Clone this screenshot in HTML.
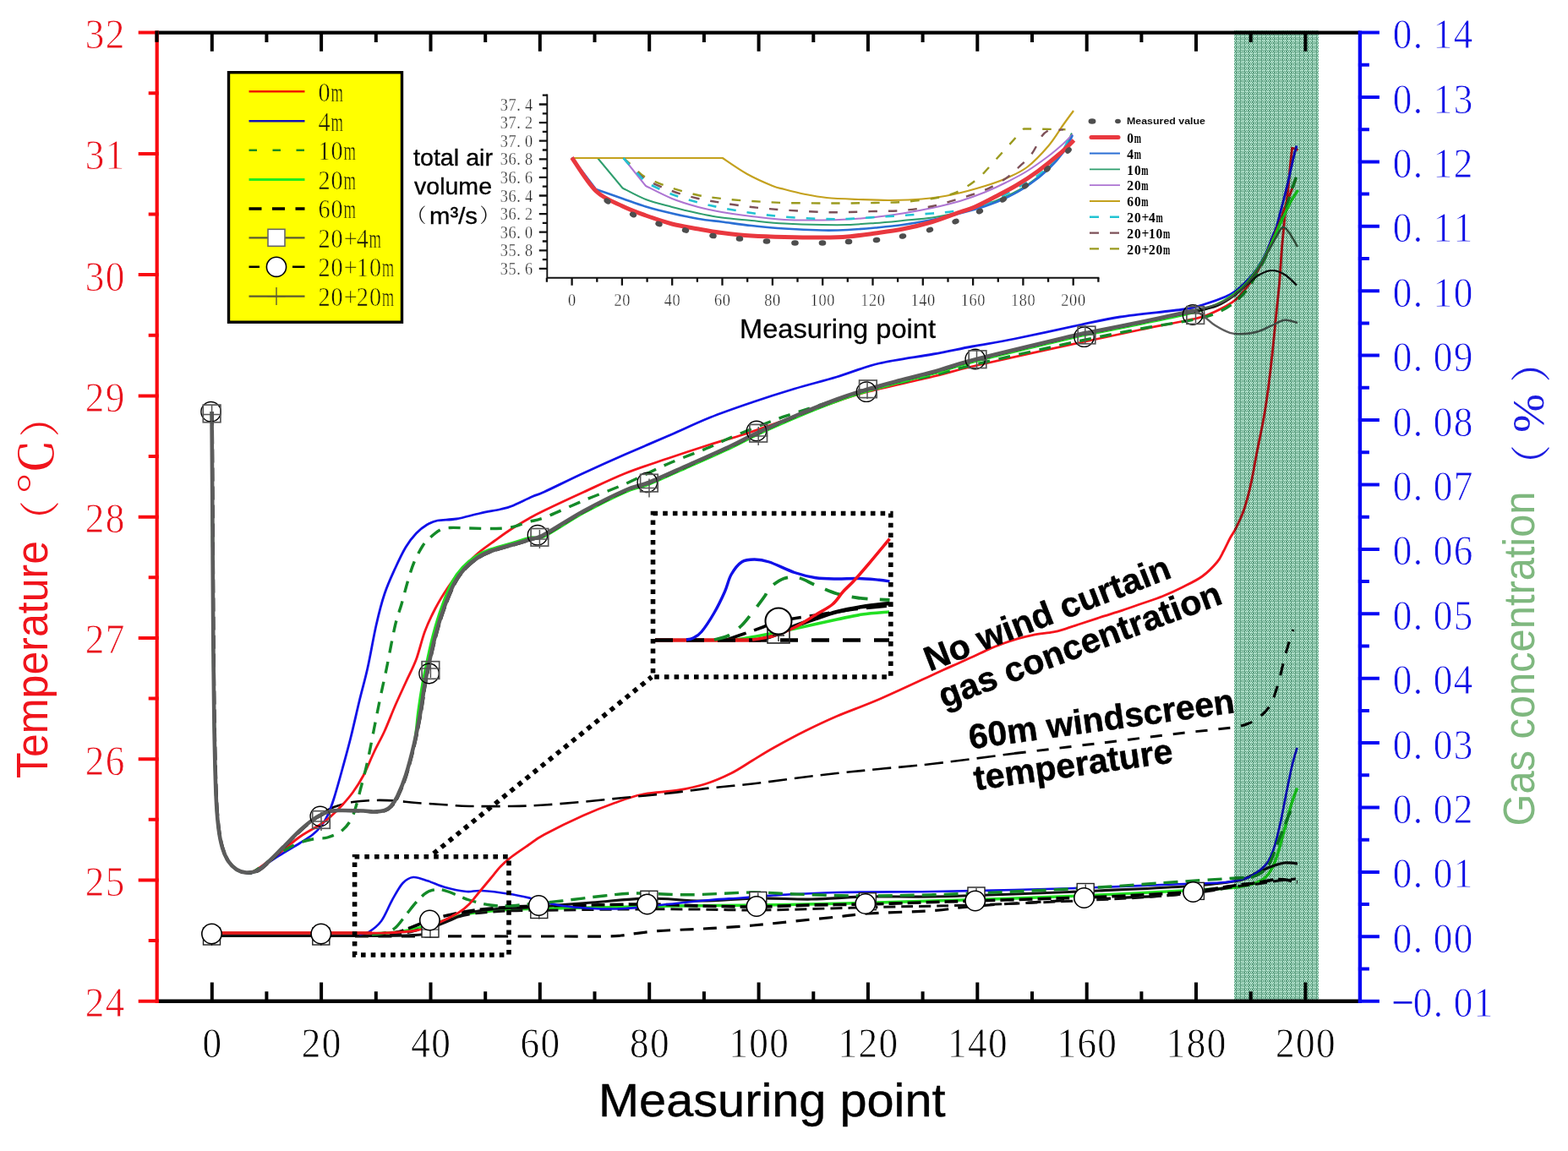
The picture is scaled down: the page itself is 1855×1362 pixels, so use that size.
<!DOCTYPE html>
<html lang="en">
<head>
<meta charset="utf-8">
<title>Temperature and gas concentration at measuring points</title>
<style>
html,body{margin:0;padding:0;background:#fff}
body{width:1855px;height:1362px;overflow:hidden}
svg{display:block}
text{white-space:pre}
.ts{font-family:"Liberation Serif","Noto Serif CJK SC",serif}
.cj{font-family:"Liberation Serif","Noto Serif CJK SC",serif}
.ar{font-family:"Liberation Sans",sans-serif}
.ab{font-family:"Liberation Sans",sans-serif;font-weight:bold}
</style>
</head>
<body>
<svg width="1855" height="1362" viewBox="0 0 1855 1362" role="img" aria-label="Temperature and gas concentration versus measuring point">
<defs>
<pattern id="dots" width="5" height="10" patternUnits="userSpaceOnUse" shape-rendering="crispEdges">
<rect width="5" height="10" fill="#5fa082"/>
<g fill="#98cfb6"><rect x="0" y="1" width="1" height="1"/><rect x="3" y="1" width="1" height="1"/><rect x="1" y="3" width="1" height="1"/><rect x="4" y="3" width="1" height="1"/><rect x="0" y="4" width="1" height="1"/><rect x="3" y="4" width="1" height="1"/><rect x="1" y="6" width="1" height="1"/><rect x="4" y="6" width="1" height="1"/><rect x="0" y="8" width="1" height="1"/><rect x="3" y="8" width="1" height="1"/><rect x="1" y="9" width="1" height="1"/><rect x="4" y="9" width="1" height="1"/></g>
<g fill="#cff8e5"><rect x="0" y="0" width="1" height="1"/><rect x="3" y="0" width="1" height="1"/><rect x="1" y="2" width="1" height="1"/><rect x="4" y="2" width="1" height="1"/><rect x="0" y="3" width="1" height="1"/><rect x="3" y="3" width="1" height="1"/><rect x="1" y="5" width="1" height="1"/><rect x="4" y="5" width="1" height="1"/><rect x="0" y="7" width="1" height="1"/><rect x="3" y="7" width="1" height="1"/><rect x="1" y="8" width="1" height="1"/><rect x="4" y="8" width="1" height="1"/></g>
</pattern>
<clipPath id="bandclip"><rect x="1460" y="41" width="100" height="1141.5"/></clipPath>
</defs>
<rect width="1855" height="1362" fill="#fff"/>
<g id="mc" fill="none" stroke-linejoin="round">
<path d="M250.5 1107.3L440 1107.3" stroke="#000" stroke-width="3.2"/>
<path d="M440 1105C445 1104.7 460 1104.3 470 1103C480 1101.7 490 1099.5 500 1097C510 1094.5 520.8 1090.7 530 1088C539.2 1085.3 544.6 1082.8 555 1081C565.4 1079.2 580.8 1077.9 592.5 1077C604.2 1076.1 607.1 1076 625 1075.5C642.9 1075 670.8 1074.6 700 1074C729.2 1073.4 766.7 1072.5 800 1072C833.3 1071.5 866.7 1071.5 900 1071C933.3 1070.5 966 1069.8 1000 1069C1034 1068.2 1070.7 1067 1104 1066C1137.3 1065 1167.3 1064.2 1200 1063C1232.7 1061.8 1266.7 1060.5 1300 1059C1333.3 1057.5 1372.9 1055.5 1400 1054C1427.1 1052.5 1447.9 1051.7 1462.5 1050C1477.1 1048.3 1481.2 1046.5 1487.5 1044C1493.8 1041.5 1496.2 1039.8 1500 1035C1503.8 1030.2 1506.7 1024.2 1510 1015C1513.3 1005.8 1517.1 990.4 1520 980C1522.9 969.6 1525.1 960.4 1527.5 952.5C1529.9 944.6 1533.3 935.8 1534.5 932.5" stroke="#22e022" stroke-width="3.4"/>
<path d="M420 1107.8C456.7 1107.8 590.8 1108 640 1108C689.2 1108 699.2 1108.2 715 1108C730.8 1107.8 728.8 1107.6 735 1107C741.2 1106.4 744.8 1105.5 752 1104.6C759.2 1103.7 768.3 1102.5 778 1101.7C787.7 1100.9 799.2 1100.5 810 1100C820.8 1099.5 829.1 1099.2 842.6 1098.4C856.1 1097.6 874.8 1096.4 891 1095C907.2 1093.6 923.5 1091.7 940 1090C956.5 1088.3 975.4 1086.5 990 1085C1004.6 1083.5 1008.5 1082.2 1027.5 1081C1046.5 1079.8 1083.6 1078.9 1104 1077.5C1124.4 1076.1 1129.8 1074.2 1150 1072.5C1170.2 1070.8 1195.8 1069.2 1225 1067.5C1254.2 1065.8 1300 1063.8 1325 1062.5C1350 1061.2 1358.3 1061.2 1375 1060C1391.7 1058.8 1410.4 1057.1 1425 1055C1439.6 1052.9 1456.2 1048.8 1462.5 1047.5" stroke="#000" stroke-width="3.2" stroke-dasharray="16 11.5"/>
<path d="M250.5 1107C288.8 1107 437.6 1108.2 480 1107C522.4 1105.8 496.7 1102.8 505 1100C513.3 1097.2 521.7 1093.3 530 1090C538.3 1086.7 544.6 1082.5 555 1080C565.4 1077.5 580.8 1076 592.5 1075C604.2 1074 607.1 1075.2 625 1074C642.9 1072.8 676.3 1069.8 700 1068C723.7 1066.2 745.3 1063.3 767 1063C788.7 1062.7 808.5 1066 830 1066C851.5 1066 874.3 1063.3 896 1063C917.7 1062.7 938.5 1064.3 960 1064C981.5 1063.7 1001 1061.5 1025 1061C1049 1060.5 1074.8 1061.5 1104 1061C1133.2 1060.5 1167.3 1059.2 1200 1058C1232.7 1056.8 1266.7 1055.5 1300 1054C1333.3 1052.5 1372.9 1050.9 1400 1049C1427.1 1047.1 1447.9 1045.2 1462.5 1042.5C1477.1 1039.8 1480.4 1035.4 1487.5 1032.5C1494.6 1029.6 1499.6 1026.9 1505 1025C1510.4 1023.1 1515 1021.5 1520 1021C1525 1020.5 1532.5 1021.8 1535 1022" stroke="#111" stroke-width="3.2"/>
<path d="M440 1107C446.7 1106.5 466.7 1106.5 480 1104C493.3 1101.5 507.5 1095.7 520 1092C532.5 1088.3 541.7 1084.3 555 1082C568.3 1079.7 582.5 1078.8 600 1078C617.5 1077.2 636.7 1077.3 660 1077C683.3 1076.7 713.3 1076.2 740 1076C766.7 1075.8 793.3 1075.8 820 1076C846.7 1076.2 873.3 1077.2 900 1077C926.7 1076.8 953.3 1075.7 980 1075C1006.7 1074.3 1031.7 1073.7 1060 1073C1088.3 1072.3 1118.3 1072 1150 1071C1181.7 1070 1216.7 1068.5 1250 1067C1283.3 1065.5 1321.7 1063.8 1350 1062C1378.3 1060.2 1401.2 1058.2 1420 1056C1438.8 1053.8 1451.2 1050.7 1462.5 1049C1473.8 1047.3 1479.2 1047.2 1487.5 1046C1495.8 1044.8 1504.9 1043 1512.5 1042C1520.1 1041 1529.6 1040.3 1533 1040" stroke="#111" stroke-width="3" stroke-dasharray="14 7"/>
<path d="M440 1107C445 1106.3 461.7 1104.8 470 1103C478.3 1101.2 483.7 1098.3 490 1096C496.3 1093.7 501.3 1091.2 508 1089C514.7 1086.8 522.2 1084.8 530 1083C537.8 1081.2 544.6 1079.5 555 1078C565.4 1076.5 578.8 1075 592.5 1074C606.2 1073 619.1 1072.5 637 1072C654.9 1071.5 678.5 1071.3 700 1071C721.5 1070.7 744.3 1069.8 766 1070C787.7 1070.2 808.5 1071.5 830 1072C851.5 1072.5 873.3 1073.2 895 1073C916.7 1072.8 938.5 1071.5 960 1071C981.5 1070.5 1002.3 1070.5 1024 1070C1045.7 1069.5 1068.5 1068.7 1090 1068C1111.5 1067.3 1131.3 1066.7 1153 1066C1174.7 1065.3 1198.3 1064.7 1220 1064C1241.7 1063.3 1261.3 1062.8 1283 1062C1304.7 1061.2 1328.5 1060.2 1350 1059C1371.5 1057.8 1393.2 1056.9 1412 1055C1430.8 1053.1 1449.9 1049.2 1462.5 1047.5C1475.1 1045.8 1479.2 1045.7 1487.5 1044.5C1495.8 1043.3 1504.6 1040.6 1512.5 1040.5C1520.4 1040.4 1531.2 1043.2 1535 1043.8" stroke="#000" stroke-width="3.6" stroke-dasharray="16 6"/>
<path d="M425 1105.5C426.8 1105.1 431.7 1105.6 436 1103C440.3 1100.4 446.3 1096.3 451 1090C455.7 1083.7 459.8 1072.5 464 1065C468.2 1057.5 472.3 1049.5 476.5 1045C480.7 1040.5 484 1038.4 489 1038C494 1037.6 500.3 1040.6 506.6 1042.6C512.9 1044.6 519.2 1047.9 526.7 1050C534.2 1052.1 544.7 1054.3 551.8 1055C558.9 1055.7 561 1053.5 569.4 1054C577.8 1054.5 592.4 1056.2 602 1057.7C611.6 1059.2 617.3 1060.5 627 1062.7C636.7 1064.9 647.8 1069 660 1071C672.2 1073 686.7 1074.3 700 1075C713.3 1075.7 725 1075.8 740 1075C755 1074.2 773.3 1071.7 790 1070C806.7 1068.3 825.5 1066.2 840 1065C854.5 1063.8 864.5 1063.4 877 1062.5C889.5 1061.6 896.2 1060.6 915 1059.5C933.8 1058.4 958.5 1056.8 990 1056C1021.5 1055.2 1069 1055.5 1104 1055C1139 1054.5 1167.3 1053.8 1200 1053C1232.7 1052.2 1266.7 1051.2 1300 1050C1333.3 1048.8 1375 1047 1400 1046C1425 1045 1437.5 1045.2 1450 1044C1462.5 1042.8 1468.3 1041.3 1475 1039C1481.7 1036.7 1485.8 1033.2 1490 1030C1494.2 1026.8 1497.1 1024.6 1500 1020C1502.9 1015.4 1505 1010.4 1507.5 1002.5C1510 994.6 1512.5 983.8 1515 972.5C1517.5 961.2 1520.2 946.2 1522.5 935C1524.8 923.8 1526.8 913.3 1528.8 905C1530.8 896.7 1533.5 888.3 1534.5 885" stroke="#1010e8" stroke-width="2.6"/>
<path d="M440 1106C442.5 1105.7 450.4 1105.3 455 1104C459.6 1102.7 463.3 1101.5 467.5 1098C471.7 1094.5 475.8 1088.1 480 1083C484.2 1077.9 488.3 1072 492.5 1067.5C496.7 1063 500.8 1058.5 505 1056C509.2 1053.5 513.3 1052.7 517.5 1052.5C521.7 1052.3 523.8 1052.9 530 1055C536.2 1057.1 546.7 1062.3 555 1065C563.3 1067.7 572.5 1069.8 580 1071C587.5 1072.2 592.5 1072.2 600 1072C607.5 1071.8 614.2 1071 625 1070C635.8 1069 650 1067.7 665 1066C680 1064.3 700.5 1061.5 715 1060C729.5 1058.5 735.3 1057.2 752 1057C768.7 1056.8 792 1058.9 815 1058.8C838 1058.6 869.2 1056.1 890 1056C910.8 1055.9 919.2 1057.3 940 1058C960.8 1058.7 987.7 1059.9 1015 1060C1042.3 1060.1 1073.2 1059.6 1104 1058.8C1134.8 1057.9 1167.3 1056.5 1200 1055C1232.7 1053.5 1266.7 1052 1300 1050C1333.3 1048 1372.9 1044.8 1400 1043C1427.1 1041.2 1448.8 1039.9 1462.5 1039C1476.2 1038.1 1476.2 1039.8 1482.5 1037.5C1488.8 1035.2 1495 1032.1 1500 1025C1505 1017.9 1508.8 1004.2 1512.5 995C1516.2 985.8 1519.6 977.1 1522.5 970C1525.4 962.9 1528.8 955.4 1530 952.5" stroke="#148a28" stroke-width="3.4" stroke-dasharray="17 9"/>
<path d="M250.5 1104C278.8 1104 385.9 1104 420 1104C454.1 1104 442.9 1104.5 455 1104C467.1 1103.5 482.1 1102.9 492.5 1101C502.9 1099.1 509.2 1096 517.5 1092.5C525.8 1089 536.2 1083.8 542.5 1080C548.8 1076.2 550.8 1074.2 555 1070C559.2 1065.8 563.3 1060 567.5 1055C571.7 1050 575.8 1045 580 1040C584.2 1035 588.3 1029.3 592.5 1025C596.7 1020.7 599.6 1018.2 605 1014C610.4 1009.8 618.5 1004.4 625 1000C631.5 995.6 633.2 993.3 644 987.5C654.8 981.7 676.1 971.2 690 965C703.9 958.8 715.8 954.2 727.5 950C739.2 945.8 747.5 942.5 760 940C772.5 937.5 790 937.1 802.5 935C815 932.9 824.6 930.8 835 927.5C845.4 924.2 855.8 919.6 865 915C874.2 910.4 881.7 905 890 900C898.3 895 904.6 890.8 915 885C925.4 879.2 940 871.2 952.5 865C965 858.8 975.4 853.8 990 847.5C1004.6 841.2 1021 835.7 1040 827.5C1059 819.3 1089.4 804.9 1104 798.3C1118.6 791.6 1119.5 791.1 1127.4 787.6C1135.3 784.1 1144.3 780.2 1151.2 777C1158.1 773.8 1163.1 771.2 1169 768.6C1174.9 766 1180.9 763.7 1186.8 761.5C1192.7 759.3 1198.7 757.3 1204.6 755.6C1210.5 753.9 1215.4 752.7 1222.3 751.4C1229.2 750.1 1240 749 1246 747.9C1252 746.8 1253 746.4 1258 744.9C1263 743.4 1268.7 741.3 1275.7 739C1282.7 736.7 1291.4 733.8 1300 731C1308.6 728.2 1319.1 725.1 1327.4 722.4C1335.7 719.6 1342.1 717.3 1350 714.5C1357.9 711.7 1366.8 709 1374.9 705.8C1383 702.5 1390.7 699 1398.6 695C1406.5 691 1415.4 687 1422.3 682C1429.2 677 1435.8 670 1440 665C1444.2 660 1445.1 656.7 1447.6 652C1450.1 647.3 1453 641 1455.1 637C1457.2 633 1458.8 631.2 1460.4 628.2C1462.1 625.2 1463.3 622.5 1465 619C1466.7 615.5 1468.8 610.9 1470.3 607C1471.8 603.1 1472.7 599.9 1474 595.6C1475.3 591.3 1476.9 585.2 1477.9 581.2C1478.9 577.2 1479.3 574.9 1480.1 571.4C1480.8 567.9 1481.2 566.5 1482.4 560C1483.6 553.5 1485.4 543.3 1487.5 532.5C1489.6 521.7 1492.9 506.7 1495 495C1497.1 483.3 1498.3 475 1500 462.5C1501.7 450 1503.3 435.4 1505 420C1506.7 404.6 1508.5 384.6 1510 370C1511.5 355.4 1512.8 344.2 1513.8 332.5C1514.8 320.8 1515.2 310.6 1516 300C1516.8 289.4 1518 277.1 1518.8 268.8C1519.5 260.4 1519.8 257.3 1520.6 250C1521.4 242.7 1522.8 233.3 1523.8 225C1524.7 216.7 1525.2 208.5 1526 200C1526.8 191.5 1528.3 178.3 1528.8 174" stroke="#f5141c" stroke-width="2.8"/>
<path d="M1528.2 175L1535.6 177.5" stroke="#f5141c" stroke-width="2.6"/>
<path d="M250.5 1104L440 1104" stroke="#e01818" stroke-width="3.6"/>
<path d="M250.5 487C250.6 505.8 251 554.5 251.3 600C251.6 645.5 251.9 716.7 252.3 760C252.7 803.3 253 830 253.5 860C254 890 254.7 920 255.5 940C256.3 960 257.2 969.5 258.5 980C259.8 990.5 261.1 996.5 263 1003C264.9 1009.5 267.2 1014.7 270 1019C272.8 1023.3 276.5 1026.8 280 1029C283.5 1031.2 286.8 1032.3 291 1032.5C295.2 1032.7 300.2 1032.5 305 1030C309.8 1027.5 315 1022.1 320 1017.5C325 1012.9 329.2 1008.3 335 1002.5C340.8 996.7 349.2 987.9 355 982.5C360.8 977.1 365.8 973.2 370 970C374.2 966.8 375.8 965.5 380 963C384.2 960.5 388.8 957.3 395 955C401.2 952.7 409.6 950.3 417.5 949C425.4 947.7 434.2 947.2 442.5 947C450.8 946.8 459.2 947 467.5 947.5C475.8 948 482.1 949.2 492.5 950C502.9 950.8 519.6 951.8 530 952.5C540.4 953.2 542.5 953.8 555 954C567.5 954.2 590.2 954.2 605 954C619.8 953.8 629.8 953.4 644 952.5C658.2 951.6 674 950.2 690 948.8C706 947.3 723.3 945.4 740 943.8C756.7 942.1 773.3 940.6 790 938.8C806.7 936.9 823.3 934.4 840 932.5C856.7 930.6 873.3 929.4 890 927.5C906.7 925.6 923.3 923.1 940 921C956.7 918.9 973.3 916.8 990 915C1006.7 913.2 1021 911.9 1040 910C1059 908.1 1077.3 906.8 1104 903.8C1130.7 900.7 1184 893.6 1200 891.6" stroke="#000" stroke-width="2.6" stroke-dasharray="22 9"/>
<path d="M1200 891.6C1216.7 889.6 1266.7 883.5 1300 879.5C1333.3 875.5 1376.7 870 1400 867.3C1423.3 864.5 1429.5 864.2 1440 863C1450.5 861.8 1456.7 861.3 1462.7 860.2C1468.7 859.1 1472 858 1476 856.5C1480 855 1482.9 853.4 1486.4 851C1489.9 848.6 1493.9 845.5 1497 842C1500.1 838.5 1502.4 835.8 1505 830C1507.6 824.2 1510 816.2 1512.5 807.5C1515 798.8 1517.9 785.4 1520 777.5C1522.1 769.6 1523.3 765.4 1525 760C1526.7 754.6 1529.2 747.5 1530 745" stroke="#000" stroke-width="3" stroke-dasharray="14 13"/>
<path d="M250.5 487C250.6 505.8 251 554.5 251.3 600C251.6 645.5 251.9 716.7 252.3 760C252.7 803.3 253 830 253.5 860C254 890 254.7 920 255.5 940C256.3 960 257.2 969.5 258.5 980C259.8 990.5 261.1 996.5 263 1003C264.9 1009.5 267.2 1014.7 270 1019C272.8 1023.3 276.5 1026.8 280 1029C283.5 1031.2 287.7 1032 291 1032.5C294.3 1033 293.5 1035.3 300 1032C306.5 1028.7 320.8 1018.2 330 1012.5C339.2 1006.8 348.3 1001.7 355 997.5C361.7 993.3 365.8 990.8 370 987.5C374.2 984.2 377.1 981.2 380 977.5C382.9 973.8 385 970.4 387.5 965C390 959.6 392.1 954.2 395 945C397.9 935.8 401.7 922.1 405 910C408.3 897.9 411.7 885.8 415 872.5C418.3 859.2 421.7 843.8 425 830C428.3 816.2 431.7 805 435 790C438.3 775 441.7 754.6 445 740C448.3 725.4 451.2 713.8 455 702.5C458.8 691.2 463.3 681.7 467.5 672.5C471.7 663.3 475.8 654.4 480 647.5C484.2 640.6 488.3 635.4 492.5 631C496.7 626.6 500.8 623.5 505 621C509.2 618.5 511.7 617.2 517.5 616C523.3 614.8 531.7 615.4 540 614C548.3 612.6 558.8 609.4 567.5 607.5C576.2 605.6 586.2 603.9 592.5 602.5C598.8 601.1 598.8 601.5 605 599C611.2 596.5 623.5 590.3 630 587.5C636.5 584.7 634 586.6 644 582C654 577.4 674 567.4 690 560C706 552.6 723.3 544.8 740 537.5C756.7 530.2 773.3 523.2 790 516C806.7 508.8 823.3 500.7 840 494C856.7 487.3 873.3 481.7 890 476C906.7 470.3 923.3 465 940 460C956.7 455 973.3 451 990 446C1006.7 441 1021 434.5 1040 430C1059 425.5 1085.7 422.3 1104 419C1122.3 415.7 1134 413 1150 410C1166 407 1179.2 405.2 1200 401C1220.8 396.8 1254.2 389.3 1275 385C1295.8 380.7 1304.2 378.2 1325 375C1345.8 371.8 1383.3 368.5 1400 366C1416.7 363.5 1416.7 362.5 1425 360C1433.3 357.5 1443.8 353.7 1450 351C1456.2 348.3 1458.3 346.8 1462.5 343.8C1466.7 340.7 1470.8 336.9 1475 332.5C1479.2 328.1 1483.8 322.9 1487.5 317.5C1491.2 312.1 1494.6 306.1 1497.5 300C1500.4 293.9 1502.9 286.2 1505 281C1507.1 275.8 1508.3 274.2 1510 269C1511.7 263.8 1513.3 256.3 1515 250C1516.7 243.7 1518.3 237.7 1520 231C1521.7 224.3 1523.3 217.2 1525 210C1526.7 202.8 1528.5 193.8 1530 187.5C1531.5 181.2 1533.3 175 1534 172.5" stroke="#1010e8" stroke-width="2.8"/>
<path d="M250.5 487C250.6 505.8 251 554.5 251.3 600C251.6 645.5 251.9 716.7 252.3 760C252.7 803.3 253 830 253.5 860C254 890 254.7 920 255.5 940C256.3 960 257.2 969.5 258.5 980C259.8 990.5 261.1 996.5 263 1003C264.9 1009.5 267.2 1014.7 270 1019C272.8 1023.3 276.5 1026.8 280 1029C283.5 1031.2 287.7 1032.2 291 1032.5C294.3 1032.8 296 1032.9 300 1031C304 1029.1 310 1024.5 315 1021C320 1017.5 323.3 1015.2 330 1010C336.7 1004.8 346.7 995.8 355 990C363.3 984.2 373.8 979.2 380 975C386.2 970.8 388.3 968.8 392.5 965C396.7 961.2 400.8 957.1 405 952.5C409.2 947.9 413.3 943.3 417.5 937.5C421.7 931.7 425.8 925.4 430 917.5C434.2 909.6 438.3 898.8 442.5 890C446.7 881.2 450.8 874.2 455 865C459.2 855.8 463.3 844.6 467.5 835C471.7 825.4 475.8 816.7 480 807.5C484.2 798.3 488.8 790 492.5 780C496.2 770 498.8 757.5 502.5 747.5C506.2 737.5 510.4 728.8 515 720C519.6 711.2 525 702.5 530 695C535 687.5 539.2 681.7 545 675C550.8 668.3 558.3 660.8 565 655C571.7 649.2 578.3 644.8 585 640C591.7 635.2 598.3 630.3 605 626C611.7 621.7 618.5 617.7 625 614C631.5 610.3 633.2 609.2 644 604C654.8 598.8 674 589.8 690 582.5C706 575.2 723.3 566.7 740 560C756.7 553.3 773.3 548.2 790 542.5C806.7 536.8 825 530.8 840 526C855 521.2 863.3 519.5 880 514C896.7 508.5 921.7 499.5 940 493C958.3 486.5 975.8 479.8 990 475C1004.2 470.2 1006 468.9 1025 464C1044 459.1 1082.3 450.8 1104 445.5C1125.7 440.2 1126.5 439.1 1155 432.5C1183.5 425.9 1242.5 413.1 1275 406C1307.5 398.9 1329.2 394.3 1350 390C1370.8 385.7 1387.5 382.7 1400 380C1412.5 377.3 1416.7 376.9 1425 374C1433.3 371.1 1443.8 365.8 1450 362.5C1456.2 359.2 1458.3 357.8 1462.5 354C1466.7 350.2 1470.9 345.3 1475 340C1479.1 334.7 1483.3 328.2 1487 322C1490.7 315.8 1493.7 310 1497 303C1500.3 296 1504 287.2 1507 280C1510 272.8 1512.5 266.7 1515 260C1517.5 253.3 1519.8 245.8 1522 240C1524.2 234.2 1526.2 229.7 1528 225C1529.8 220.3 1532.2 214.2 1533 212" stroke="#f5141c" stroke-width="2.8"/>
<path d="M250.5 487C250.6 505.8 251 554.5 251.3 600C251.6 645.5 251.9 716.7 252.3 760C252.7 803.3 253 830 253.5 860C254 890 254.7 920 255.5 940C256.3 960 257.2 969.5 258.5 980C259.8 990.5 261.1 996.5 263 1003C264.9 1009.5 267.2 1014.7 270 1019C272.8 1023.3 276.5 1026.8 280 1029C283.5 1031.2 287.7 1032.1 291 1032.5C294.3 1032.9 294.3 1034.6 300 1031.5C305.7 1028.4 316.7 1019.4 325 1014C333.3 1008.6 342.1 1002.6 350 999C357.9 995.4 366.2 993.8 372.5 992.5C378.8 991.2 382.1 992.7 387.5 991C392.9 989.3 400 986.8 405 982.5C410 978.2 413.8 973.8 417.5 965C421.2 956.2 424.6 940.8 427.5 930C430.4 919.2 432.5 911.2 435 900C437.5 888.8 440 875 442.5 862.5C445 850 447.5 837.1 450 825C452.5 812.9 454.6 804.2 457.5 790C460.4 775.8 464.6 752.5 467.5 740C470.4 727.5 472.5 723.8 475 715C477.5 706.2 480 695.8 482.5 687.5C485 679.2 487.1 671.9 490 665C492.9 658.1 497.1 650.6 500 646C502.9 641.4 504.2 640.6 507.5 637.5C510.8 634.4 515.8 629.7 520 627.5C524.2 625.3 526.7 624.9 532.5 624.5C538.3 624.1 546.2 624.8 555 625C563.8 625.2 576.7 625.7 585 625.5C593.3 625.3 598.3 625.3 605 624C611.7 622.7 618.5 619.4 625 617.5C631.5 615.6 633.2 616.7 644 612.5C654.8 608.3 674 599.2 690 592.5C706 585.8 723.3 579.8 740 572.5C756.7 565.2 773.3 556.2 790 549C806.7 541.8 827.5 534.2 840 529C852.5 523.8 852.5 522.8 865 517.5C877.5 512.2 902.5 502.2 915 497.5C927.5 492.8 927.5 493.1 940 489C952.5 484.9 975.8 477.5 990 473C1004.2 468.5 1006 466.8 1025 462C1044 457.2 1082.3 449.2 1104 444C1125.7 438.8 1126.5 437.7 1155 431C1183.5 424.3 1242.5 411 1275 404C1307.5 397 1327 393.3 1350 389C1373 384.7 1398 381.2 1413 378C1428 374.8 1432.2 373.3 1440 370C1447.8 366.7 1454.2 362.5 1460 358C1465.8 353.5 1470.3 349 1475 343C1479.7 337 1483.8 329.5 1488 322C1492.2 314.5 1496.3 305.8 1500 298C1503.7 290.2 1506.7 283 1510 275C1513.3 267 1517 258.3 1520 250C1523 241.7 1525.6 232.2 1528 225C1530.4 217.8 1533.3 210 1534.4 207" stroke="#148a28" stroke-width="3.4" stroke-dasharray="14 10.5"/>
<path d="M250.5 487C250.6 505.8 251 554.5 251.3 600C251.6 645.5 251.9 716.7 252.3 760C252.7 803.3 253 830 253.5 860C254 890 254.7 920 255.5 940C256.3 960 257.2 969.5 258.5 980C259.8 990.5 261.1 996.5 263 1003C264.9 1009.5 267.2 1014.7 270 1019C272.8 1023.3 276.5 1026.8 280 1029C283.5 1031.2 286.8 1032.3 291 1032.5C295.2 1032.7 300.2 1032.5 305 1030C309.8 1027.5 315 1022.1 320 1017.5C325 1012.9 329.2 1008.3 335 1002.5C340.8 996.7 349.2 987.9 355 982.5C360.8 977.1 365.8 973.1 370 970C374.2 966.9 376.3 965.8 380 964C383.7 962.2 387.8 960.3 392 959.5C396.2 958.7 398.7 959 405 959C411.3 959 423.8 959.2 430 959.5C436.2 959.8 437.8 960.6 442 960.5C446.2 960.4 451.6 960.1 455 959C458.4 957.9 460 956.8 462.5 954C465 951.2 467.1 948.6 470 942.5C472.9 936.4 476.7 927.9 480 917.5C483.3 907.1 487.5 892.7 490 880C492.5 867.3 493.2 853 494.9 841.1C496.5 829.2 498.2 818.2 499.9 808.6C501.6 799 502.8 793.2 504.9 783.6C507 774 509.5 761.9 512.4 751.1C515.3 740.3 518.6 729 522.4 718.6C526.1 708.2 530.7 696.5 534.9 688.6C539.1 680.7 542.8 676.1 547.4 671.1C552 666.1 557.4 661.9 562.4 658.6C567.4 655.3 570.7 653.6 577.4 651.1C584.1 648.6 594.1 646.1 602.4 643.6C610.7 641.1 620.5 637.6 627.4 636.1C634.3 634.6 633.6 639.5 644 634.7C654.4 629.9 674 616 690 607.2C706 598.5 727.1 587.9 740 582.2C752.9 576.5 755 578.2 767.5 573.2C780 568.2 798.8 559.5 815 552.2C831.2 545 851.7 536 865 529.7C878.3 523.5 882.5 520.5 895 514.7C907.5 508.9 924.2 501.4 940 494.7C955.8 488 975.8 479.9 990 474.7C1004.2 469.4 1012.5 466.9 1025 463.2C1037.5 459.4 1051.8 455.7 1065 452.2C1078.2 448.7 1089 446.4 1104 442.2C1119 438 1126.5 434.5 1155 427.2C1183.5 419.9 1253.3 403.4 1275 398.2C1296.7 393 1272.5 398.7 1285 396.2C1297.5 393.7 1328.8 387.6 1350 383.2C1371.2 378.8 1397.5 373.6 1412.5 369.7C1427.5 365.8 1432.1 363.6 1440 360C1447.9 356.4 1454.2 352.2 1460 348C1465.8 343.8 1470 340.5 1475 335C1480 329.5 1485.8 321.3 1490 315C1494.2 308.7 1496.7 303.7 1500 297C1503.3 290.3 1506.7 282.3 1510 275C1513.3 267.7 1517 259.3 1520 253C1523 246.7 1525.4 241.7 1528 237C1530.6 232.3 1534.3 227 1535.6 225" stroke="#22e022" stroke-width="3.2"/>
<path d="M251.3 487.5C251.4 506.3 251.8 555 252.1 600.5C252.4 646 252.7 717.2 253.1 760.5C253.5 803.8 253.8 830.5 254.3 860.5C254.8 890.5 255.5 920.5 256.3 940.5C257.1 960.5 258.1 970 259.3 980.5C260.6 991 261.9 997 263.8 1003.5C265.7 1010 268 1015.2 270.8 1019.5C273.6 1023.8 277.3 1027.2 280.8 1029.5C284.3 1031.8 287.6 1032.8 291.8 1033C296 1033.2 301 1033 305.8 1030.5C310.6 1028 315.8 1022.6 320.8 1018C325.8 1013.4 330 1008.8 335.8 1003C341.6 997.2 350 988.4 355.8 983C361.6 977.6 366.6 973.6 370.8 970.5C375 967.4 377.1 966.2 380.8 964.5C384.5 962.8 388.6 960.8 392.8 960C397 959.2 399.5 959.5 405.8 959.5C412.1 959.5 424.6 959.8 430.8 960C437 960.2 438.6 961.1 442.8 961C447 960.9 452.4 960.6 455.8 959.5C459.2 958.4 460.8 957.2 463.3 954.5C465.8 951.8 467.9 949.1 470.8 943C473.7 936.9 477.5 928.4 480.8 918C484.1 907.6 487.9 893 490.8 880.5C493.7 868 496.2 854.7 498.3 843C500.4 831.3 501.6 820.1 503.3 810.5C505 800.9 506.2 795.1 508.3 785.5C510.4 775.9 512.9 763.8 515.8 753C518.7 742.2 522 730.9 525.8 720.5C529.5 710.1 534.1 698.4 538.3 690.5C542.5 682.6 546.2 678 550.8 673C555.4 668 560.8 663.8 565.8 660.5C570.8 657.2 574.1 655.5 580.8 653C587.5 650.5 597.5 648 605.8 645.5C614.1 643 624.3 640.1 630.8 638C637.3 635.9 634.8 638.4 644.8 633C654.8 627.6 674.8 614.2 690.8 605.5C706.8 596.8 727.9 586.2 740.8 580.5C753.7 574.8 755.8 576.5 768.3 571.5C780.8 566.5 799.5 557.8 815.8 550.5C832 543.2 852.5 534.2 865.8 528C879.1 521.8 883.3 518.8 895.8 513C908.3 507.2 925 499.7 940.8 493C956.6 486.3 976.6 478.2 990.8 473C1005 467.8 1013.3 465.2 1025.8 461.5C1038.3 457.8 1052.6 454 1065.8 450.5C1079 447 1089.8 444.7 1104.8 440.5C1119.8 436.3 1127.3 432.8 1155.8 425.5C1184.3 418.2 1254.1 401.7 1275.8 396.5C1297.5 391.3 1273.3 397 1285.8 394.5C1298.3 392 1329.5 385.9 1350.8 381.5C1372 377.1 1402.9 370.2 1413.3 368" stroke="#111" stroke-width="3.2" stroke-dasharray="16 6"/>
<path d="M1400 371C1402.2 370.7 1406.3 370.5 1413 369C1419.7 367.5 1432.2 365.2 1440 362C1447.8 358.8 1454.2 354.2 1460 350C1465.8 345.8 1470 341.2 1475 337C1480 332.8 1485 327.8 1490 325C1495 322.2 1500 320 1505 320C1510 320 1515.2 322.1 1520 325C1524.8 327.9 1531.7 335.4 1534 337.5" stroke="#111" stroke-width="2.2"/>
<path d="M250.5 487C250.6 505.8 251 554.5 251.3 600C251.6 645.5 251.9 716.7 252.3 760C252.7 803.3 253 830 253.5 860C254 890 254.7 920 255.5 940C256.3 960 257.2 969.5 258.5 980C259.8 990.5 261.1 996.5 263 1003C264.9 1009.5 267.2 1014.7 270 1019C272.8 1023.3 276.5 1026.8 280 1029C283.5 1031.2 286.8 1032.3 291 1032.5C295.2 1032.7 300.2 1032.5 305 1030C309.8 1027.5 315 1022.1 320 1017.5C325 1012.9 329.2 1008.3 335 1002.5C340.8 996.7 349.2 987.9 355 982.5C360.8 977.1 365.8 973.1 370 970C374.2 966.9 376.3 965.8 380 964C383.7 962.2 387.8 960.3 392 959.5C396.2 958.7 398.7 959 405 959C411.3 959 423.8 959.2 430 959.5C436.2 959.8 437.8 960.6 442 960.5C446.2 960.4 451.6 960.1 455 959C458.4 957.9 460 956.8 462.5 954C465 951.2 467.1 948.6 470 942.5C472.9 936.4 476.7 927.9 480 917.5C483.3 907.1 487.1 892.5 490 880C492.9 867.5 495.4 854.2 497.5 842.5C499.6 830.8 500.8 819.6 502.5 810C504.2 800.4 505.4 794.6 507.5 785C509.6 775.4 512.1 763.3 515 752.5C517.9 741.7 521.2 730.4 525 720C528.8 709.6 533.3 697.9 537.5 690C541.7 682.1 545.4 677.5 550 672.5C554.6 667.5 560 663.3 565 660C570 656.7 573.3 655 580 652.5C586.7 650 596.7 647.5 605 645C613.3 642.5 623.5 639.6 630 637.5C636.5 635.4 634 637.9 644 632.5C654 627.1 674 613.8 690 605C706 596.2 727.1 585.7 740 580C752.9 574.3 755 576 767.5 571C780 566 798.8 557.2 815 550C831.2 542.8 851.7 533.8 865 527.5C878.3 521.2 882.5 518.3 895 512.5C907.5 506.7 924.2 499.2 940 492.5C955.8 485.8 975.8 477.8 990 472.5C1004.2 467.2 1012.5 464.8 1025 461C1037.5 457.2 1051.8 453.5 1065 450C1078.2 446.5 1089 444.2 1104 440C1119 435.8 1126.5 432.3 1155 425C1183.5 417.7 1253.3 401.2 1275 396C1296.7 390.8 1272.5 396.5 1285 394C1297.5 391.5 1328.8 385.4 1350 381C1371.2 376.6 1402.1 369.8 1412.5 367.5" stroke="#5c5c5c" stroke-width="4.6"/>
<path d="M1400 369C1402.2 368.7 1406.3 368.5 1413 367C1419.7 365.5 1432.2 363 1440 360C1447.8 357 1454.2 353 1460 349C1465.8 345 1470 341.5 1475 336C1480 330.5 1485.8 322.3 1490 316C1494.2 309.7 1496.7 304 1500 298C1503.3 292 1507.1 284.8 1510 280C1512.9 275.2 1515 269.8 1517.5 269C1520 268.2 1522.1 271.2 1525 275C1527.9 278.8 1533.3 289.2 1535 292" stroke="#4a5a4a" stroke-width="2.4"/>
<path d="M1400 370C1402.1 369.6 1408.3 366.7 1412.5 367.5C1416.7 368.3 1420.8 372.1 1425 375C1429.2 377.9 1432.5 381.9 1437.5 385C1442.5 388.1 1449.6 392.1 1455 393.8C1460.4 395.4 1464.6 395.2 1470 395C1475.4 394.8 1481.7 394.2 1487.5 392.5C1493.3 390.8 1499.6 387.3 1505 385C1510.4 382.7 1515 379.2 1520 378.8C1525 378.2 1532.5 381.5 1535 382" stroke="#5c5c5c" stroke-width="2.4"/>
</g>
<circle cx="249.6" cy="487.2" r="11.7" fill="none" stroke="#000" stroke-width="1.4"/>
<circle cx="378.8" cy="966" r="11.7" fill="none" stroke="#000" stroke-width="1.4"/>
<circle cx="507.6" cy="797" r="11.7" fill="none" stroke="#000" stroke-width="1.4"/>
<circle cx="636" cy="633.2" r="11.7" fill="none" stroke="#000" stroke-width="1.4"/>
<circle cx="765.8" cy="570.8" r="11.7" fill="none" stroke="#000" stroke-width="1.4"/>
<circle cx="895" cy="510" r="11.7" fill="none" stroke="#000" stroke-width="1.4"/>
<circle cx="1025" cy="463.7" r="11.7" fill="none" stroke="#000" stroke-width="1.4"/>
<circle cx="1153.8" cy="425" r="11.7" fill="none" stroke="#000" stroke-width="1.4"/>
<circle cx="1282.5" cy="398.7" r="11.7" fill="none" stroke="#000" stroke-width="1.4"/>
<circle cx="1411" cy="372.5" r="11.7" fill="none" stroke="#000" stroke-width="1.4"/>
<rect x="240.3" y="479.1" width="20.6" height="20.6" fill="none" stroke="#555" stroke-width="1.7"/>
<rect x="369.7" y="959.7" width="20.6" height="20.6" fill="none" stroke="#555" stroke-width="1.7"/>
<rect x="499.1" y="782.7" width="20.6" height="20.6" fill="none" stroke="#555" stroke-width="1.7"/>
<rect x="628.1" y="625.5" width="20.6" height="20.6" fill="none" stroke="#555" stroke-width="1.7"/>
<rect x="757.6" y="561.3" width="20.6" height="20.6" fill="none" stroke="#555" stroke-width="1.7"/>
<rect x="886.9" y="502.4" width="20.6" height="20.6" fill="none" stroke="#555" stroke-width="1.7"/>
<rect x="1016.6" y="450" width="20.6" height="20.6" fill="none" stroke="#555" stroke-width="1.7"/>
<rect x="1146.2" y="414.9" width="20.6" height="20.6" fill="none" stroke="#555" stroke-width="1.7"/>
<rect x="1275.2" y="386.2" width="20.6" height="20.6" fill="none" stroke="#555" stroke-width="1.7"/>
<rect x="1403.9" y="362.7" width="20.6" height="20.6" fill="none" stroke="#555" stroke-width="1.7"/>
<path d="M239.6 490.5h22M250.6 479.5v22" stroke="#555" stroke-width="1.5" fill="none"/>
<path d="M369 972h22M380 961v22" stroke="#555" stroke-width="1.5" fill="none"/>
<path d="M498.4 791h22M509.4 780v22" stroke="#555" stroke-width="1.5" fill="none"/>
<path d="M627.4 638h22M638.4 627v22" stroke="#555" stroke-width="1.5" fill="none"/>
<path d="M757 577.5h22M768 566.5v22" stroke="#555" stroke-width="1.5" fill="none"/>
<path d="M886.2 516h22M897.2 505v22" stroke="#555" stroke-width="1.5" fill="none"/>
<path d="M1015 461h22M1026 450v22" stroke="#555" stroke-width="1.5" fill="none"/>
<path d="M1144.5 426h22M1155.5 415v22" stroke="#555" stroke-width="1.5" fill="none"/>
<path d="M1272.8 396h22M1283.8 385v22" stroke="#555" stroke-width="1.5" fill="none"/>
<path d="M1403.5 371h22M1414.5 360v22" stroke="#555" stroke-width="1.5" fill="none"/>
<rect x="240.5" y="1098" width="20" height="20" fill="#fff" stroke="#222" stroke-width="1.4"/>
<path d="M240.5 1109h20M250.5 1099v20" stroke="#222" stroke-width="1.2" fill="none"/>
<rect x="369.8" y="1098" width="20" height="20" fill="#fff" stroke="#222" stroke-width="1.4"/>
<path d="M369.8 1109h20M379.8 1099v20" stroke="#222" stroke-width="1.2" fill="none"/>
<rect x="499" y="1089" width="20" height="20" fill="#fff" stroke="#222" stroke-width="1.4"/>
<path d="M499 1100h20M509 1090v20" stroke="#222" stroke-width="1.2" fill="none"/>
<rect x="627.8" y="1066.5" width="20" height="20" fill="#fff" stroke="#222" stroke-width="1.4"/>
<path d="M627.8 1077.5h20M637.8 1067.5v20" stroke="#222" stroke-width="1.2" fill="none"/>
<rect x="757.9" y="1054.3" width="20" height="20" fill="#fff" stroke="#222" stroke-width="1.4"/>
<path d="M757.9 1065.3h20M767.9 1055.3v20" stroke="#222" stroke-width="1.2" fill="none"/>
<rect x="886.8" y="1055.5" width="20" height="20" fill="#fff" stroke="#222" stroke-width="1.4"/>
<path d="M886.8 1066.5h20M896.8 1056.5v20" stroke="#222" stroke-width="1.2" fill="none"/>
<rect x="1016.3" y="1056.7" width="20" height="20" fill="#fff" stroke="#222" stroke-width="1.4"/>
<path d="M1016.3 1067.7h20M1026.3 1057.7v20" stroke="#222" stroke-width="1.2" fill="none"/>
<rect x="1145" y="1050" width="20" height="20" fill="#fff" stroke="#222" stroke-width="1.4"/>
<path d="M1145 1061h20M1155 1051v20" stroke="#222" stroke-width="1.2" fill="none"/>
<rect x="1274.2" y="1045.5" width="20" height="20" fill="#fff" stroke="#222" stroke-width="1.4"/>
<path d="M1274.2 1056.5h20M1284.2 1046.5v20" stroke="#222" stroke-width="1.2" fill="none"/>
<rect x="1404.4" y="1044.4" width="20" height="20" fill="#fff" stroke="#222" stroke-width="1.4"/>
<path d="M1404.4 1055.4h20M1414.4 1045.4v20" stroke="#222" stroke-width="1.2" fill="none"/>
<circle cx="250.5" cy="1105" r="11.7" fill="#fff" stroke="#000" stroke-width="1.6"/>
<circle cx="379.8" cy="1105" r="11.7" fill="#fff" stroke="#000" stroke-width="1.6"/>
<circle cx="508.4" cy="1089" r="11.7" fill="#fff" stroke="#000" stroke-width="1.6"/>
<circle cx="637.3" cy="1071.5" r="11.7" fill="#fff" stroke="#000" stroke-width="1.6"/>
<circle cx="765.5" cy="1070" r="11.7" fill="#fff" stroke="#000" stroke-width="1.6"/>
<circle cx="895" cy="1072.5" r="11.7" fill="#fff" stroke="#000" stroke-width="1.6"/>
<circle cx="1023.8" cy="1069.5" r="11.7" fill="#fff" stroke="#000" stroke-width="1.6"/>
<circle cx="1153.7" cy="1066" r="11.7" fill="#fff" stroke="#000" stroke-width="1.6"/>
<circle cx="1282.5" cy="1062.5" r="11.7" fill="#fff" stroke="#000" stroke-width="1.6"/>
<circle cx="1411.5" cy="1055.5" r="11.7" fill="#fff" stroke="#000" stroke-width="1.6"/>
<path d="M419.6 1013.8H602V1130H419.6Z" stroke="#000" stroke-width="5.6" stroke-dasharray="5.6 6.1" fill="none"/>
<path d="M513 1010L771 801" stroke="#000" stroke-width="5.6" stroke-dasharray="5.6 6.1" fill="none"/>
<rect x="772.5" y="607.5" width="281" height="193.5" fill="#fff" stroke="none"/>
<g fill="none" stroke-linejoin="round">
<path d="M900 757C903.3 755.8 913.3 752.7 920 750C926.7 747.3 932.5 744 940 741C947.5 738 956.7 734.8 965 732C973.3 729.2 980.8 726.3 990 724C999.2 721.7 1009.7 719.7 1020 718C1030.3 716.3 1046.7 714.7 1052 714" stroke="#000" stroke-width="4.6"/>
<path d="M870 757C875 756.2 888.3 754.2 900 752C911.7 749.8 925 747.2 940 744C955 740.8 976.7 735.8 990 733C1003.3 730.2 1009.7 728.5 1020 727C1030.3 725.5 1046.7 724.5 1052 724" stroke="#22e022" stroke-width="3.6"/>
<path d="M860 757C863.3 755.8 873.3 752.3 880 750C886.7 747.7 893.2 745.5 900 743C906.8 740.5 910.2 737.5 921 735C931.8 732.5 950.2 730.3 965 728C979.8 725.7 995.5 722.8 1010 721C1024.5 719.2 1045 717.7 1052 717" stroke="#000" stroke-width="3.6" stroke-dasharray="24 10"/>
<path d="M775 757.5L900 757.5" stroke="#e01818" stroke-width="4.6"/>
<path d="M775 757.5L1052 757.5" stroke="#000" stroke-width="4.6" stroke-dasharray="21 16"/>
<path d="M812 757C813.3 756.7 817 756.6 820 755C823 753.4 825.8 752.5 830 747.5C834.2 742.5 840.4 732.9 845 725C849.6 717.1 854.2 707.5 857.5 700C860.8 692.5 861.7 685.8 865 680C868.3 674.2 872.9 668 877.5 665C882.1 662 887.1 662 892.5 662C897.9 662 902.1 662.4 910 665C917.9 667.6 930.8 674.4 940 677.5C949.2 680.6 956.7 682.5 965 683.8C973.3 685 981.7 684.9 990 685C998.3 685.1 1006.7 684.3 1015 684.5C1023.3 684.7 1033.8 685.7 1040 686.2C1046.2 686.8 1050.4 687.7 1052.5 688" stroke="#1010e8" stroke-width="3.4"/>
<path d="M845 757C847.8 756.2 856.6 754.8 862 752C867.4 749.2 872.8 744.5 877.5 740C882.2 735.5 885.4 730.8 890 725C894.6 719.2 901.7 709.8 905 705C908.3 700.2 906.2 699.4 910 696C913.8 692.6 921.7 686.5 927.5 684.5C933.3 682.5 938.8 682.4 945 683.8C951.2 685.1 957.5 689.4 965 692.5C972.5 695.6 981.7 700 990 702.5C998.3 705 1004.6 706.2 1015 707.5C1025.4 708.8 1046.2 709.6 1052.5 710" stroke="#148a28" stroke-width="3.8" stroke-dasharray="19 14"/>
<path d="M890 757C894.2 756.2 906.7 754.9 915 752.5C923.3 750.1 931.7 746.7 940 742.5C948.3 738.3 957.5 732.1 965 727.5C972.5 722.9 979.6 719.6 985 715C990.4 710.4 993.3 704.6 997.5 700C1001.7 695.4 1005 692.9 1010 687.5C1015 682.1 1020.4 675.8 1027.5 667.5C1034.6 659.2 1048.3 642.5 1052.5 637.5" stroke="#f5141c" stroke-width="3.6"/>
</g>
<rect x="908" y="735" width="26" height="26" fill="none" stroke="#222" stroke-width="1.6"/>
<path d="M914 752h14M921 745v14" stroke="#222" stroke-width="1.4" fill="none"/>
<circle cx="921" cy="735" r="15.5" fill="#fff" stroke="#000" stroke-width="2"/>
<path d="M772.5 607.5H1053.8V801H772.5Z" stroke="#000" stroke-width="5.6" stroke-dasharray="5.6 6.1" fill="none"/>
<g stroke="#000" stroke-width="4.4" fill="none">
<path d="M185.7 38.6H1608.9"/>
<path d="M185.7 1184.7H1608.9"/>
</g>
<path d="M250.8 38.6v22.2M250.8 1184.7v-22.2M315.4 38.6v11.4M315.4 1184.7v-11.4M380.1 38.6v22.2M380.1 1184.7v-22.2M444.8 38.6v11.4M444.8 1184.7v-11.4M509.5 38.6v22.2M509.5 1184.7v-22.2M574.2 38.6v11.4M574.2 1184.7v-11.4M638.8 38.6v22.2M638.8 1184.7v-22.2M703.5 38.6v11.4M703.5 1184.7v-11.4M768.2 38.6v22.2M768.2 1184.7v-22.2M832.9 38.6v11.4M832.9 1184.7v-11.4M897.6 38.6v22.2M897.6 1184.7v-22.2M962.3 38.6v11.4M962.3 1184.7v-11.4M1026.9 38.6v22.2M1026.9 1184.7v-22.2M1091.6 38.6v11.4M1091.6 1184.7v-11.4M1156.3 38.6v22.2M1156.3 1184.7v-22.2M1221 38.6v11.4M1221 1184.7v-11.4M1285.7 38.6v22.2M1285.7 1184.7v-22.2M1350.4 38.6v11.4M1350.4 1184.7v-11.4M1415 38.6v22.2M1415 1184.7v-22.2M1479.7 38.6v11.4M1479.7 1184.7v-11.4M1544.4 38.6v22.2M1544.4 1184.7v-22.2" stroke="#000" stroke-width="4" fill="none"/>
<rect x="1460" y="36" width="100" height="1151" fill="url(#dots)" style="mix-blend-mode:multiply"/>
<use href="#mc" opacity="0.28" clip-path="url(#bandclip)"/>
<path d="M185.7 36.4V1186.9" stroke="#f90a10" stroke-width="4.2" fill="none"/>
<path d="M187.7 38.6h-24M187.7 110.2h-12M187.7 181.9h-24M187.7 253.5h-12M187.7 325.1h-24M187.7 396.8h-12M187.7 468.4h-24M187.7 540h-12M187.7 611.7h-24M187.7 683.3h-12M187.7 754.9h-24M187.7 826.5h-12M187.7 898.2h-24M187.7 969.8h-12M187.7 1041.4h-24M187.7 1113.1h-12M187.7 1184.7h-24" stroke="#f90a10" stroke-width="4" fill="none"/>
<path d="M185.5 36.4V49.8" stroke="#000" stroke-width="4.2" fill="none"/>
<text class="ts" transform="translate(100 57.1) scale(0.885 1)" x="0.8 27.9" font-size="51.1" fill="#e8101a" stroke="#fff" stroke-width="0.8">32</text>
<text class="ts" transform="translate(100 200.4) scale(0.885 1)" x="0.8 27.9" font-size="51.1" fill="#e8101a" stroke="#fff" stroke-width="0.8">31</text>
<text class="ts" transform="translate(100 343.6) scale(0.885 1)" x="0.8 27.9" font-size="51.1" fill="#e8101a" stroke="#fff" stroke-width="0.8">30</text>
<text class="ts" transform="translate(100 486.9) scale(0.885 1)" x="0.8 27.9" font-size="51.1" fill="#e8101a" stroke="#fff" stroke-width="0.8">29</text>
<text class="ts" transform="translate(100 630.2) scale(0.885 1)" x="0.8 27.9" font-size="51.1" fill="#e8101a" stroke="#fff" stroke-width="0.8">28</text>
<text class="ts" transform="translate(100 773.4) scale(0.885 1)" x="0.8 27.9" font-size="51.1" fill="#e8101a" stroke="#fff" stroke-width="0.8">27</text>
<text class="ts" transform="translate(100 916.7) scale(0.885 1)" x="0.8 27.9" font-size="51.1" fill="#e8101a" stroke="#fff" stroke-width="0.8">26</text>
<text class="ts" transform="translate(100 1059.9) scale(0.885 1)" x="0.8 27.9" font-size="51.1" fill="#e8101a" stroke="#fff" stroke-width="0.8">25</text>
<text class="ts" transform="translate(100 1203.2) scale(0.885 1)" x="0.8 27.9" font-size="51.1" fill="#e8101a" stroke="#fff" stroke-width="0.8">24</text>
<path d="M1608.9 36.4V1186.9" stroke="#0808f4" stroke-width="4.4" fill="none"/>
<path d="M1606.9 38.6h25M1606.9 76.8h13M1606.9 115h25M1606.9 153.2h13M1606.9 191.4h25M1606.9 229.6h13M1606.9 267.8h25M1606.9 306h13M1606.9 344.2h25M1606.9 382.4h13M1606.9 420.6h25M1606.9 458.8h13M1606.9 497h25M1606.9 535.2h13M1606.9 573.4h25M1606.9 611.7h13M1606.9 649.9h25M1606.9 688.1h13M1606.9 726.3h25M1606.9 764.5h13M1606.9 802.7h25M1606.9 840.9h13M1606.9 879.1h25M1606.9 917.3h13M1606.9 955.5h25M1606.9 993.7h13M1606.9 1031.9h25M1606.9 1070.1h13M1606.9 1108.3h25M1606.9 1146.5h13M1606.9 1184.7h25" stroke="#0808f4" stroke-width="4" fill="none"/>
<text class="ts" transform="translate(1647 57.1) scale(0.885 1)" x="0.8 27.9 55.0 82.1" font-size="51.1" fill="#1010e6" stroke="#fff" stroke-width="0.8">0.14</text>
<text class="ts" transform="translate(1647 133.5) scale(0.885 1)" x="0.8 27.9 55.0 82.1" font-size="51.1" fill="#1010e6" stroke="#fff" stroke-width="0.8">0.13</text>
<text class="ts" transform="translate(1647 209.9) scale(0.885 1)" x="0.8 27.9 55.0 82.1" font-size="51.1" fill="#1010e6" stroke="#fff" stroke-width="0.8">0.12</text>
<text class="ts" transform="translate(1647 286.3) scale(0.885 1)" x="0.8 27.9 55.0 82.1" font-size="51.1" fill="#1010e6" stroke="#fff" stroke-width="0.8">0.11</text>
<text class="ts" transform="translate(1647 362.7) scale(0.885 1)" x="0.8 27.9 55.0 82.1" font-size="51.1" fill="#1010e6" stroke="#fff" stroke-width="0.8">0.10</text>
<text class="ts" transform="translate(1647 439.1) scale(0.885 1)" x="0.8 27.9 55.0 82.1" font-size="51.1" fill="#1010e6" stroke="#fff" stroke-width="0.8">0.09</text>
<text class="ts" transform="translate(1647 515.5) scale(0.885 1)" x="0.8 27.9 55.0 82.1" font-size="51.1" fill="#1010e6" stroke="#fff" stroke-width="0.8">0.08</text>
<text class="ts" transform="translate(1647 591.9) scale(0.885 1)" x="0.8 27.9 55.0 82.1" font-size="51.1" fill="#1010e6" stroke="#fff" stroke-width="0.8">0.07</text>
<text class="ts" transform="translate(1647 668.4) scale(0.885 1)" x="0.8 27.9 55.0 82.1" font-size="51.1" fill="#1010e6" stroke="#fff" stroke-width="0.8">0.06</text>
<text class="ts" transform="translate(1647 744.8) scale(0.885 1)" x="0.8 27.9 55.0 82.1" font-size="51.1" fill="#1010e6" stroke="#fff" stroke-width="0.8">0.05</text>
<text class="ts" transform="translate(1647 821.2) scale(0.885 1)" x="0.8 27.9 55.0 82.1" font-size="51.1" fill="#1010e6" stroke="#fff" stroke-width="0.8">0.04</text>
<text class="ts" transform="translate(1647 897.6) scale(0.885 1)" x="0.8 27.9 55.0 82.1" font-size="51.1" fill="#1010e6" stroke="#fff" stroke-width="0.8">0.03</text>
<text class="ts" transform="translate(1647 974) scale(0.885 1)" x="0.8 27.9 55.0 82.1" font-size="51.1" fill="#1010e6" stroke="#fff" stroke-width="0.8">0.02</text>
<text class="ts" transform="translate(1647 1050.4) scale(0.885 1)" x="0.8 27.9 55.0 82.1" font-size="51.1" fill="#1010e6" stroke="#fff" stroke-width="0.8">0.01</text>
<text class="ts" transform="translate(1647 1126.8) scale(0.885 1)" x="0.8 27.9 55.0 82.1" font-size="51.1" fill="#1010e6" stroke="#fff" stroke-width="0.8">0.00</text>
<text class="ts" transform="translate(1646.5 1203.9) scale(0.885 1)" font-size="53" fill="#1212e0">−</text>
<text class="ts" transform="translate(1671 1203.2) scale(0.885 1)" x="0.8 27.9 55.0 82.1" font-size="51.1" fill="#1010e6" stroke="#fff" stroke-width="0.8">0.01</text>
<text class="ts" transform="translate(238.8 1250.5) scale(0.885 1)" x="0.8" font-size="51.1" fill="#000" stroke="#fff" stroke-width="0.8">0</text>
<text class="ts" transform="translate(356.1 1250.5) scale(0.885 1)" x="0.8 27.9" font-size="51.1" fill="#000" stroke="#fff" stroke-width="0.8">20</text>
<text class="ts" transform="translate(485.5 1250.5) scale(0.885 1)" x="0.8 27.9" font-size="51.1" fill="#000" stroke="#fff" stroke-width="0.8">40</text>
<text class="ts" transform="translate(614.8 1250.5) scale(0.885 1)" x="0.8 27.9" font-size="51.1" fill="#000" stroke="#fff" stroke-width="0.8">60</text>
<text class="ts" transform="translate(744.2 1250.5) scale(0.885 1)" x="0.8 27.9" font-size="51.1" fill="#000" stroke="#fff" stroke-width="0.8">80</text>
<text class="ts" transform="translate(861.6 1250.5) scale(0.885 1)" x="0.8 27.9 55.0" font-size="51.1" fill="#000" stroke="#fff" stroke-width="0.8">100</text>
<text class="ts" transform="translate(990.9 1250.5) scale(0.885 1)" x="0.8 27.9 55.0" font-size="51.1" fill="#000" stroke="#fff" stroke-width="0.8">120</text>
<text class="ts" transform="translate(1120.3 1250.5) scale(0.885 1)" x="0.8 27.9 55.0" font-size="51.1" fill="#000" stroke="#fff" stroke-width="0.8">140</text>
<text class="ts" transform="translate(1249.7 1250.5) scale(0.885 1)" x="0.8 27.9 55.0" font-size="51.1" fill="#000" stroke="#fff" stroke-width="0.8">160</text>
<text class="ts" transform="translate(1379 1250.5) scale(0.885 1)" x="0.8 27.9 55.0" font-size="51.1" fill="#000" stroke="#fff" stroke-width="0.8">180</text>
<text class="ts" transform="translate(1508.4 1250.5) scale(0.885 1)" x="0.8 27.9 55.0" font-size="51.1" fill="#000" stroke="#fff" stroke-width="0.8">200</text>
<text class="ar" x="708" y="1321" font-size="56" textLength="410.5" lengthAdjust="spacingAndGlyphs" fill="#000" stroke="#000" stroke-width="0.4">Measuring point</text>
<g transform="translate(55.8 921) rotate(-90)" fill="#f0141c">
<text class="ar" x="0" y="0" font-size="51" textLength="281" lengthAdjust="spacingAndGlyphs">Temperature</text>
<text class="cj" x="280.8" y="8" font-size="48">（</text>
<text class="cj" x="335" y="7" font-size="54" textLength="67" lengthAdjust="spacingAndGlyphs">℃</text>
<text class="cj" x="403.8" y="8" font-size="48">）</text>
</g>
<g transform="translate(1815.4 977.5) rotate(-90)">
<text class="ar" x="0" y="0" font-size="52" textLength="396" lengthAdjust="spacingAndGlyphs" fill="#7fb87f">Gas concentration</text>
<g fill="#1c1ce0">
<text class="cj" x="403.3" y="13" font-size="48">（</text>
<text class="ts" x="465.5" y="11" font-size="52" textLength="46" lengthAdjust="spacingAndGlyphs">%</text>
<text class="cj" x="525" y="13" font-size="48">）</text>
</g>
</g>
<text class="ab" transform="translate(1099.7 794.7) rotate(-21.2)" font-size="41" textLength="309" lengthAdjust="spacingAndGlyphs" fill="#000" stroke="#000" stroke-width="0.5">No wind curtain</text>
<text class="ab" transform="translate(1116.6 837.9) rotate(-20.56)" font-size="41" textLength="354" lengthAdjust="spacingAndGlyphs" fill="#000" stroke="#000" stroke-width="0.5">gas concentration</text>
<text class="ab" transform="translate(1148 886.4) rotate(-7.86)" font-size="41" textLength="317" lengthAdjust="spacingAndGlyphs" fill="#000" stroke="#000" stroke-width="0.5">60m windscreen</text>
<text class="ab" transform="translate(1154 935.2) rotate(-8.04)" font-size="41" textLength="237.2" lengthAdjust="spacingAndGlyphs" fill="#000" stroke="#000" stroke-width="0.5">temperature</text>
<rect x="270.5" y="85.7" width="205" height="295.5" fill="#ffff00" stroke="#000" stroke-width="3.4"/>
<g fill="none">
<path d="M294.5 108.2H360.5" stroke="#f21a00" stroke-width="2.4"/>
<path d="M294.5 143.2H360.5" stroke="#1212b8" stroke-width="2.4"/>
<path d="M294.5 177.8H360.5" stroke="#1e8c1e" stroke-width="2.4" stroke-dasharray="9.5 18.5"/>
<path d="M294.5 212.4H360.5" stroke="#1eee1e" stroke-width="3"/>
<path d="M294.5 247H360.5" stroke="#000" stroke-width="3.4" stroke-dasharray="15 12.5"/>
<path d="M294.5 281.3H360.5" stroke="#5a5a32" stroke-width="2.2"/>
<path d="M294.5 315.8H360.5" stroke="#000" stroke-width="2.6" stroke-dasharray="12.5 39 14.5 99"/>
<path d="M294.5 350.6H360.5" stroke="#5a5a32" stroke-width="2.2"/>
</g>
<rect x="317" y="271.3" width="20" height="20" fill="#fff" stroke="#666" stroke-width="1.6"/>
<circle cx="327" cy="315.8" r="11.6" fill="#fff" stroke="#000" stroke-width="1.6"/>
<path d="M316.5 350.6h21M327 340.1v21" stroke="#5a5a32" stroke-width="1.4" fill="none"/>
<text class="ts" transform="translate(376 119.5) scale(0.885 1)" x="0.6" font-size="31.9" fill="#14140a" stroke="#ffff00" stroke-width="0.5">0<tspan x="17.4" textLength="16.4" lengthAdjust="spacingAndGlyphs">m</tspan></text>
<text class="ts" transform="translate(376 154.5) scale(0.885 1)" x="0.6" font-size="31.9" fill="#14140a" stroke="#ffff00" stroke-width="0.5">4<tspan x="17.4" textLength="16.4" lengthAdjust="spacingAndGlyphs">m</tspan></text>
<text class="ts" transform="translate(376 189.1) scale(0.885 1)" x="0.6 17.6" font-size="31.9" fill="#14140a" stroke="#ffff00" stroke-width="0.5">10<tspan x="34.4" textLength="16.4" lengthAdjust="spacingAndGlyphs">m</tspan></text>
<text class="ts" transform="translate(376 223.7) scale(0.885 1)" x="0.6 17.6" font-size="31.9" fill="#14140a" stroke="#ffff00" stroke-width="0.5">20<tspan x="34.4" textLength="16.4" lengthAdjust="spacingAndGlyphs">m</tspan></text>
<text class="ts" transform="translate(376 258.3) scale(0.885 1)" x="0.6 17.6" font-size="31.9" fill="#14140a" stroke="#ffff00" stroke-width="0.5">60<tspan x="34.4" textLength="16.4" lengthAdjust="spacingAndGlyphs">m</tspan></text>
<text class="ts" transform="translate(376 292.6) scale(0.885 1)" x="0.6 17.6 34.7 51.7" font-size="31.9" fill="#14140a" stroke="#ffff00" stroke-width="0.5">20+4<tspan x="68.5" textLength="16.4" lengthAdjust="spacingAndGlyphs">m</tspan></text>
<text class="ts" transform="translate(376 327.1) scale(0.885 1)" x="0.6 17.6 34.7 51.7 68.8" font-size="31.9" fill="#14140a" stroke="#ffff00" stroke-width="0.5">20+10<tspan x="85.6" textLength="16.4" lengthAdjust="spacingAndGlyphs">m</tspan></text>
<text class="ts" transform="translate(376 361.9) scale(0.885 1)" x="0.6 17.6 34.7 51.7 68.8" font-size="31.9" fill="#14140a" stroke="#ffff00" stroke-width="0.5">20+20<tspan x="85.6" textLength="16.4" lengthAdjust="spacingAndGlyphs">m</tspan></text>
<g fill="none" stroke-linejoin="round">
<path d="M676.5 187L707 187L736.5 222.5C741.1 224.8 754.2 232.2 764 236C773.8 239.8 784.6 242.2 795 245C805.4 247.8 816.7 250.4 826.5 252.5C836.3 254.6 843.6 256.1 854 257.5C864.4 258.9 876.7 259.8 889 261C901.3 262.2 914 263.7 928 264.5C942 265.3 960.5 265.8 973 266C985.5 266.2 992.7 266.3 1003 266C1013.3 265.7 1024.2 264.8 1035 264C1045.8 263.2 1056.7 262.1 1068 261C1079.3 259.9 1091.8 259.2 1103 257.5C1114.2 255.8 1125.2 253.5 1135.5 251C1145.8 248.5 1155.9 245.6 1165 242.5C1174.1 239.4 1181.7 236.4 1190 232.5C1198.3 228.6 1206.7 224.6 1215 219C1223.3 213.4 1232.8 205.9 1240 199C1247.2 192.1 1253.3 184.4 1258 177.5C1262.7 170.6 1266.3 160.8 1268 157.5" stroke="#2f9e6e" stroke-width="2"/>
<path d="M676.5 187L737.5 187L764 220C769.2 222.5 784.7 230.8 795 235C805.3 239.2 816.2 242.3 826 245C835.8 247.7 843.5 249.2 854 251C864.5 252.8 876.7 254.5 889 256C901.3 257.5 914 259.2 928 260C942 260.8 960.5 260.6 973 260.5C985.5 260.4 992.7 260.1 1003 259.5C1013.3 258.9 1024.2 258.2 1035 257C1045.8 255.8 1056.7 254.3 1068 252.5C1079.3 250.7 1091.8 248.4 1103 246C1114.2 243.6 1125.2 241.1 1135.5 238C1145.8 234.9 1155.9 231.2 1165 227.5C1174.1 223.8 1181.7 220.2 1190 216C1198.3 211.8 1206.7 207.7 1215 202.5C1223.3 197.3 1232.8 190.4 1240 185C1247.2 179.6 1253.2 174.3 1258 170C1262.8 165.7 1267.2 160.8 1269 159" stroke="#ad74d2" stroke-width="2"/>
<path d="M676.5 187L854.8 187C859.6 190.2 874.1 200.5 884 206C893.9 211.5 906.7 217 914 220C921.3 223 921.5 222.3 928 224C934.5 225.7 944.7 228.3 953 230C961.3 231.7 967.6 233 978 234C988.4 235 1003 235.5 1015.5 236C1028 236.5 1040.5 237.1 1053 237C1065.5 236.9 1078 236.7 1090.5 235.5C1103 234.3 1115.5 232.6 1128 230C1140.5 227.4 1155.1 223.2 1165.5 220C1175.9 216.8 1182.2 214.8 1190.5 211C1198.8 207.2 1207.2 203.9 1215.5 197.5C1223.8 191.1 1233.4 180.8 1240.5 172.5C1247.6 164.2 1253.1 154.4 1258 147.5C1262.9 140.6 1268 133.8 1270 131" stroke="#c4a11e" stroke-width="2.2"/>
<path d="M737.5 187C739.4 188.7 744.6 193.2 749 197C753.4 200.8 756.3 205.8 764 210C771.7 214.2 784.7 219 795 222.5C805.3 226 816.2 228.9 826 231C835.8 233.1 843.5 233.8 854 235C864.5 236.2 876.7 237.2 889 238C901.3 238.8 914 239.6 928 240C942 240.4 960.5 240.4 973 240.5C985.5 240.6 992.7 240.6 1003 240.5C1013.3 240.4 1024.2 240.2 1035 240C1045.8 239.8 1056.7 239.8 1068 239C1079.3 238.2 1093 236.7 1103 235C1113 233.3 1121 231.5 1128 229C1135 226.5 1139.7 223.3 1145 220C1150.3 216.7 1157.5 210.8 1160 209L1211 152.5C1213.8 152.5 1219.8 152.5 1228 152.6C1236.2 152.7 1255.1 153.1 1260.5 153.2" stroke="#9a9a1e" stroke-width="2.4" stroke-dasharray="10.5 13"/>
<path d="M737.5 187C739.4 189 744.6 194.8 749 199C753.4 203.2 756.3 208 764 212.5C771.7 217 784.7 222.2 795 226C805.3 229.8 816.2 232.7 826 235C835.8 237.3 843.5 238.3 854 240C864.5 241.7 876.7 243.6 889 245C901.3 246.4 914 247.5 928 248.5C942 249.5 960.5 250.6 973 251C985.5 251.4 992.7 251.2 1003 251C1013.3 250.8 1024.2 250.3 1035 250C1045.8 249.7 1056.7 250 1068 249C1079.3 248 1091.8 246.3 1103 244C1114.2 241.7 1124.7 238.2 1135 235C1145.3 231.8 1156 228.9 1165 225C1174 221.1 1182.3 216.3 1189 211.8C1195.7 207.3 1199.8 202.9 1205 198C1210.2 193.1 1215.6 188.8 1220.3 182.5C1225 176.2 1229.7 165.2 1233 160.5C1236.3 155.8 1238.8 155.5 1240 154.5L1258 153.4" stroke="#7d5058" stroke-width="2.4" stroke-dasharray="10.5 13"/>
<path d="M737.5 187L764 216C769.2 218.3 784.7 226.1 795 230C805.3 233.9 816.2 236.8 826 239.5C835.8 242.2 843.5 243.9 854 246C864.5 248.1 876.7 250.2 889 252C901.3 253.8 914 255.3 928 256.5C942 257.7 960.5 258.6 973 259C985.5 259.4 992.7 259.3 1003 259C1013.3 258.7 1024.2 257.7 1035 257C1045.8 256.3 1056.7 255.8 1068 255C1079.3 254.2 1093 253.3 1103 252.5C1113 251.7 1119.7 251.1 1128 250C1136.3 248.9 1144.7 248.3 1153 246C1161.3 243.7 1169.7 239.9 1178 236C1186.3 232.1 1194.7 227.2 1203 222.5C1211.3 217.8 1219.7 213.8 1228 207.5C1236.3 201.2 1246.3 193.6 1253 185C1259.7 176.4 1265.5 160.8 1268 156" stroke="#22c3d2" stroke-width="2.6" stroke-dasharray="10.5 13"/>
<path d="M676.5 186.5L705 224C710.2 225.8 726.7 231.6 736.5 235C746.3 238.4 754.2 241.6 764 244.5C773.8 247.4 784.6 250.1 795 252.5C805.4 254.9 816.7 257.3 826.5 259C836.3 260.7 843.6 261.2 854 262.5C864.4 263.8 876.7 265.7 889 267C901.3 268.3 914 269.6 928 270.5C942 271.4 960.5 272.2 973 272.5C985.5 272.8 992.6 272.5 1003 272C1013.4 271.5 1024.7 270.5 1035.5 269.5C1046.3 268.5 1056.8 267.6 1068 266C1079.2 264.4 1091.8 262.2 1103 260C1114.2 257.8 1125.1 255.2 1135.5 252.5C1145.9 249.8 1156.3 247.1 1165.5 244C1174.7 240.9 1182.2 238 1190.5 234C1198.8 230 1207.2 225.7 1215.5 220C1223.8 214.3 1233.4 206.7 1240.5 200C1247.6 193.3 1253.2 186.7 1258 180C1262.8 173.3 1267.2 163.3 1269 160" stroke="#2a6fd4" stroke-width="2.6"/>
<path d="M676.5 186.5C681.2 193.1 695 216.4 705 226C715 235.6 726.7 239.2 736.5 244C746.3 248.8 754.2 251.5 764 255C773.8 258.5 784.6 262.3 795 265C805.4 267.7 816.7 269.2 826.5 271C836.3 272.8 843.6 274.2 854 275.5C864.4 276.8 876.7 278.2 889 279C901.3 279.8 914 280.2 928 280.5C942 280.8 960.5 281.1 973 281C985.5 280.9 992.6 280.8 1003 280C1013.4 279.2 1024.7 277.5 1035.5 276C1046.3 274.5 1056.8 273.2 1068 271C1079.2 268.8 1091.8 265.8 1103 262.5C1114.2 259.2 1127.2 253.9 1135.5 251C1143.8 248.1 1145.9 248.1 1153 245C1160.1 241.9 1169.7 236.8 1178 232.5C1186.3 228.2 1194.7 224 1203 219C1211.3 214 1219.7 208.6 1228 202.5C1236.3 196.4 1245.9 188.6 1253 182.5C1260.1 176.4 1267.6 168.8 1270.5 166" stroke="#e9383f" stroke-width="5"/>
</g>
<ellipse cx="718.5" cy="238" rx="4.3" ry="3.2" fill="#4d4d4d" transform="rotate(30 718.5 238)"/>
<ellipse cx="749" cy="254" rx="4.3" ry="3.2" fill="#4d4d4d" transform="rotate(25 749 254)"/>
<ellipse cx="779.5" cy="265" rx="4.3" ry="3.2" fill="#4d4d4d" transform="rotate(20 779.5 265)"/>
<ellipse cx="811" cy="272.5" rx="4.3" ry="3.2" fill="#4d4d4d" transform="rotate(15 811 272.5)"/>
<ellipse cx="843.5" cy="279" rx="4.3" ry="3.2" fill="#4d4d4d" transform="rotate(10 843.5 279)"/>
<ellipse cx="875" cy="282.5" rx="4.3" ry="3.2" fill="#4d4d4d" transform="rotate(5 875 282.5)"/>
<ellipse cx="907" cy="285.5" rx="4.3" ry="3.2" fill="#4d4d4d" transform="rotate(0 907 285.5)"/>
<ellipse cx="940.5" cy="287.5" rx="4.3" ry="3.2" fill="#4d4d4d" transform="rotate(0 940.5 287.5)"/>
<ellipse cx="973" cy="287.5" rx="4.3" ry="3.2" fill="#4d4d4d" transform="rotate(0 973 287.5)"/>
<ellipse cx="1004" cy="286" rx="4.3" ry="3.2" fill="#4d4d4d" transform="rotate(-5 1004 286)"/>
<ellipse cx="1037" cy="284" rx="4.3" ry="3.2" fill="#4d4d4d" transform="rotate(-8 1037 284)"/>
<ellipse cx="1068" cy="279.5" rx="4.3" ry="3.2" fill="#4d4d4d" transform="rotate(-12 1068 279.5)"/>
<ellipse cx="1100" cy="272" rx="4.3" ry="3.2" fill="#4d4d4d" transform="rotate(-18 1100 272)"/>
<ellipse cx="1130.5" cy="262" rx="4.3" ry="3.2" fill="#4d4d4d" transform="rotate(-22 1130.5 262)"/>
<ellipse cx="1159" cy="250" rx="4.3" ry="3.2" fill="#4d4d4d" transform="rotate(-25 1159 250)"/>
<ellipse cx="1187" cy="236" rx="4.3" ry="3.2" fill="#4d4d4d" transform="rotate(-30 1187 236)"/>
<ellipse cx="1213" cy="220" rx="4.3" ry="3.2" fill="#4d4d4d" transform="rotate(-35 1213 220)"/>
<ellipse cx="1239" cy="200" rx="4.3" ry="3.2" fill="#4d4d4d" transform="rotate(-40 1239 200)"/>
<ellipse cx="1264" cy="178" rx="4.3" ry="3.2" fill="#4d4d4d" transform="rotate(-45 1264 178)"/>
<g stroke="#111" stroke-width="2.3" fill="none">
<path d="M647.3 111.6V328.8H1300.4" stroke-width="1.9"/>
<path d="M647.3 317.9h-9.5M647.3 307.1h-5.5M647.3 296.3h-9.5M647.3 285.5h-5.5M647.3 274.7h-9.5M647.3 263.9h-5.5M647.3 253.1h-9.5M647.3 242.3h-5.5M647.3 231.5h-9.5M647.3 220.7h-5.5M647.3 209.9h-9.5M647.3 199.1h-5.5M647.3 188.3h-9.5M647.3 177.5h-5.5M647.3 166.7h-9.5M647.3 155.9h-5.5M647.3 145.1h-9.5M647.3 134.3h-5.5M647.3 123.5h-9.5M647.3 112.7h-5.5M646.9 328.8v5M676.6 328.8v9M706.3 328.8v5M735.9 328.8v9M765.6 328.8v5M795.2 328.8v9M824.9 328.8v5M854.5 328.8v9M884.2 328.8v5M913.9 328.8v9M943.5 328.8v5M973.2 328.8v9M1002.8 328.8v5M1032.5 328.8v9M1062.1 328.8v5M1091.8 328.8v9M1121.5 328.8v5M1151.1 328.8v9M1180.8 328.8v5M1210.4 328.8v9M1240.1 328.8v5M1269.7 328.8v9M1299.4 328.8v5"/>
</g>
<text class="ts" transform="translate(591.5 324.9) scale(0.885 1)" x="0.3 11.3 22.4 33.4" font-size="20.7" fill="#222" stroke="#fff" stroke-width="0.35">35.6</text>
<text class="ts" transform="translate(591.5 303.3) scale(0.885 1)" x="0.3 11.3 22.4 33.4" font-size="20.7" fill="#222" stroke="#fff" stroke-width="0.35">35.8</text>
<text class="ts" transform="translate(591.5 281.7) scale(0.885 1)" x="0.3 11.3 22.4 33.4" font-size="20.7" fill="#222" stroke="#fff" stroke-width="0.35">36.0</text>
<text class="ts" transform="translate(591.5 260.1) scale(0.885 1)" x="0.3 11.3 22.4 33.4" font-size="20.7" fill="#222" stroke="#fff" stroke-width="0.35">36.2</text>
<text class="ts" transform="translate(591.5 238.5) scale(0.885 1)" x="0.3 11.3 22.4 33.4" font-size="20.7" fill="#222" stroke="#fff" stroke-width="0.35">36.4</text>
<text class="ts" transform="translate(591.5 216.9) scale(0.885 1)" x="0.3 11.3 22.4 33.4" font-size="20.7" fill="#222" stroke="#fff" stroke-width="0.35">36.6</text>
<text class="ts" transform="translate(591.5 195.3) scale(0.885 1)" x="0.3 11.3 22.4 33.4" font-size="20.7" fill="#222" stroke="#fff" stroke-width="0.35">36.8</text>
<text class="ts" transform="translate(591.5 173.7) scale(0.885 1)" x="0.3 11.3 22.4 33.4" font-size="20.7" fill="#222" stroke="#fff" stroke-width="0.35">37.0</text>
<text class="ts" transform="translate(591.5 152.1) scale(0.885 1)" x="0.3 11.3 22.4 33.4" font-size="20.7" fill="#222" stroke="#fff" stroke-width="0.35">37.2</text>
<text class="ts" transform="translate(591.5 130.5) scale(0.885 1)" x="0.3 11.3 22.4 33.4" font-size="20.7" fill="#222" stroke="#fff" stroke-width="0.35">37.4</text>
<text class="ts" transform="translate(671.7 362) scale(0.885 1)" x="0.3" font-size="20.7" fill="#222" stroke="#fff" stroke-width="0.35">0</text>
<text class="ts" transform="translate(726.2 362) scale(0.885 1)" x="0.3 11.3" font-size="20.7" fill="#222" stroke="#fff" stroke-width="0.35">20</text>
<text class="ts" transform="translate(785.5 362) scale(0.885 1)" x="0.3 11.3" font-size="20.7" fill="#222" stroke="#fff" stroke-width="0.35">40</text>
<text class="ts" transform="translate(844.8 362) scale(0.885 1)" x="0.3 11.3" font-size="20.7" fill="#222" stroke="#fff" stroke-width="0.35">60</text>
<text class="ts" transform="translate(904.1 362) scale(0.885 1)" x="0.3 11.3" font-size="20.7" fill="#222" stroke="#fff" stroke-width="0.35">80</text>
<text class="ts" transform="translate(958.5 362) scale(0.885 1)" x="0.3 11.3 22.4" font-size="20.7" fill="#222" stroke="#fff" stroke-width="0.35">100</text>
<text class="ts" transform="translate(1017.9 362) scale(0.885 1)" x="0.3 11.3 22.4" font-size="20.7" fill="#222" stroke="#fff" stroke-width="0.35">120</text>
<text class="ts" transform="translate(1077.2 362) scale(0.885 1)" x="0.3 11.3 22.4" font-size="20.7" fill="#222" stroke="#fff" stroke-width="0.35">140</text>
<text class="ts" transform="translate(1136.5 362) scale(0.885 1)" x="0.3 11.3 22.4" font-size="20.7" fill="#222" stroke="#fff" stroke-width="0.35">160</text>
<text class="ts" transform="translate(1195.8 362) scale(0.885 1)" x="0.3 11.3 22.4" font-size="20.7" fill="#222" stroke="#fff" stroke-width="0.35">180</text>
<text class="ts" transform="translate(1255.1 362) scale(0.885 1)" x="0.3 11.3 22.4" font-size="20.7" fill="#222" stroke="#fff" stroke-width="0.35">200</text>
<text class="ar" x="991" y="400" font-size="32" text-anchor="middle" textLength="232" lengthAdjust="spacingAndGlyphs" fill="#000" stroke="#000" stroke-width="0.3">Measuring point</text>
<text class="ar" x="489" y="196" font-size="28.5" textLength="94" lengthAdjust="spacingAndGlyphs" fill="#000" stroke="#000" stroke-width="0.35">total air</text>
<text class="ar" x="490" y="230" font-size="28.5" textLength="92" lengthAdjust="spacingAndGlyphs" fill="#000" stroke="#000" stroke-width="0.35">volume</text>
<text class="cj" x="481.3" y="263.3" font-size="23" fill="#111">（</text>
<text class="ar" x="508" y="265" font-size="28.5" textLength="57" lengthAdjust="spacingAndGlyphs" fill="#000" stroke="#000" stroke-width="0.35">m³/s</text>
<text class="cj" x="567.5" y="263.3" font-size="23" fill="#111">）</text>
<ellipse cx="1292" cy="143.5" rx="4.4" ry="3.2" fill="#4d4d4d"/>
<ellipse cx="1322.5" cy="143.5" rx="3.4" ry="2.8" fill="#4d4d4d"/>
<text class="ab" x="1333" y="147.2" font-size="11.5" textLength="93" lengthAdjust="spacingAndGlyphs" fill="#111">Measured value</text>
<g fill="none">
<path d="M1291 162.5H1323" stroke="#e9383f" stroke-width="5" stroke-linecap="round"/>
<path d="M1289 181.6H1325" stroke="#2a6fd4" stroke-width="2"/>
<path d="M1289 200.4H1325" stroke="#2f9e6e" stroke-width="1.8"/>
<path d="M1289 219.2H1325" stroke="#ad74d2" stroke-width="1.8"/>
<path d="M1289 238H1325" stroke="#c4a11e" stroke-width="2.2"/>
<path d="M1289 256.8H1325" stroke="#22c3d2" stroke-width="2.4" stroke-dasharray="11 13"/>
<path d="M1289 275.6H1325" stroke="#7d5058" stroke-width="2.4" stroke-dasharray="11 13"/>
<path d="M1289 294.4H1325" stroke="#9a9a1e" stroke-width="2.4" stroke-dasharray="11 13"/>
</g>
<text class="ts" transform="translate(1333 168.7) scale(0.885 1)" x="0.4" font-size="17.6" fill="#000" font-weight="bold">0<tspan x="10.0" textLength="9.3" lengthAdjust="spacingAndGlyphs">m</tspan></text>
<text class="ts" transform="translate(1333 187.8) scale(0.885 1)" x="0.4" font-size="17.6" fill="#000" font-weight="bold">4<tspan x="10.0" textLength="9.3" lengthAdjust="spacingAndGlyphs">m</tspan></text>
<text class="ts" transform="translate(1333 206.6) scale(0.885 1)" x="0.4 10.1" font-size="17.6" fill="#000" font-weight="bold">10<tspan x="19.6" textLength="9.3" lengthAdjust="spacingAndGlyphs">m</tspan></text>
<text class="ts" transform="translate(1333 225.4) scale(0.885 1)" x="0.4 10.1" font-size="17.6" fill="#000" font-weight="bold">20<tspan x="19.6" textLength="9.3" lengthAdjust="spacingAndGlyphs">m</tspan></text>
<text class="ts" transform="translate(1333 244.2) scale(0.885 1)" x="0.4 10.1" font-size="17.6" fill="#000" font-weight="bold">60<tspan x="19.6" textLength="9.3" lengthAdjust="spacingAndGlyphs">m</tspan></text>
<text class="ts" transform="translate(1333 263) scale(0.885 1)" x="0.4 10.1 19.8 29.4" font-size="17.6" fill="#000" font-weight="bold">20+4<tspan x="38.9" textLength="9.3" lengthAdjust="spacingAndGlyphs">m</tspan></text>
<text class="ts" transform="translate(1333 281.8) scale(0.885 1)" x="0.4 10.1 19.8 29.4 39.1" font-size="17.6" fill="#000" font-weight="bold">20+10<tspan x="48.6" textLength="9.3" lengthAdjust="spacingAndGlyphs">m</tspan></text>
<text class="ts" transform="translate(1333 300.6) scale(0.885 1)" x="0.4 10.1 19.8 29.4 39.1" font-size="17.6" fill="#000" font-weight="bold">20+20<tspan x="48.6" textLength="9.3" lengthAdjust="spacingAndGlyphs">m</tspan></text>
</svg>
</body>
</html>
